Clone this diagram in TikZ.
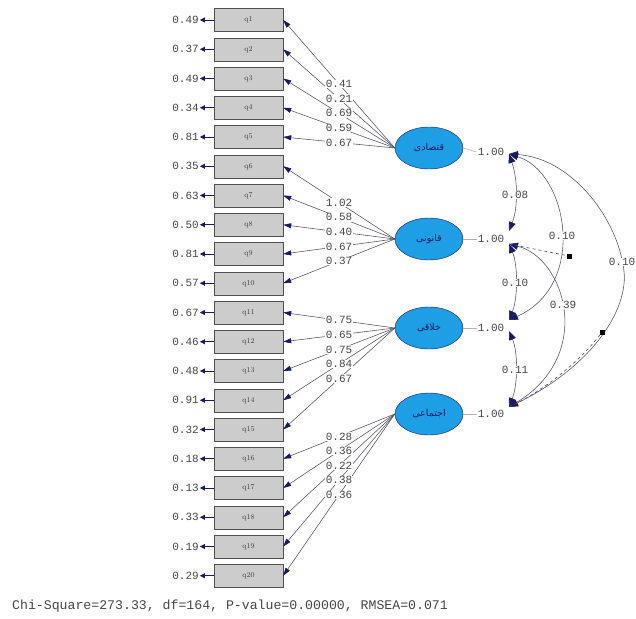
\documentclass[tikz,border=0pt]{standalone}
\usepackage{fontspec}
\usetikzlibrary{shapes.geometric,arrows.meta}
\newfontfamily\arabicfont[Script=Arabic]{DejaVu Sans}
\newfontfamily\numfont{Liberation Mono}
\TeXXeTstate=1
\definecolor{navy}{RGB}{25,25,100}
\definecolor{ink}{RGB}{70,70,70}
\definecolor{boxfill}{RGB}{204,204,204}
\definecolor{boxline}{RGB}{80,80,80}
\definecolor{factorblue}{RGB}{30,158,228}
\definecolor{linegray}{RGB}{80,80,95}
\begin{document}
\begin{tikzpicture}[x=1pt,y=-1pt,
  box/.style={draw=boxline, fill=boxfill, minimum width=69pt, minimum height=23pt,
    inner sep=0pt, font=\fontsize{7.5}{8}\selectfont, text=black!75},
  factor/.style={ellipse, draw=navy, fill=factorblue, minimum width=68pt,
    minimum height=42pt, inner sep=0pt, font=\arabicfont\fontsize{9.5}{10}\selectfont, text=navy},
  num/.style={font=\numfont\fontsize{11}{12}\selectfont, text=ink, inner sep=1pt},
  lab/.style={num, fill=white, inner sep=0.6pt},
  load/.style={draw=linegray, line width=0.55pt, -{Triangle[length=8pt,width=5pt,color=navy]}},
  errarrow/.style={draw=navy, line width=0.7pt, -{Triangle[length=5pt,width=5pt,color=navy]}},
  cov/.style={draw=linegray, line width=0.55pt,
    {Triangle[length=9pt,width=7pt,color=navy]}-{Triangle[length=9pt,width=7pt,color=navy]}},
  marker/.style={fill=black, minimum size=5pt, inner sep=0pt},
  unitline/.style={draw=gray!60, line width=0.6pt}
]
\useasboundingbox (0,0) rectangle (636,618);

% latent factors
\node[factor] (F1) at (429,148) {\beginR قتصادی\endR};
\node[factor] (F2) at (429,239) {\beginR قانونی\endR};
\node[factor] (F3) at (429,328) {\beginR خلاقی\endR};
\node[factor] (F4) at (429,414) {\beginR اجتماعی\endR};

% indicators, error variances and loadings
\foreach \i/\e/\l/\f in {
  1/0.49/0.41/F1, 2/0.37/0.21/F1, 3/0.49/0.69/F1, 4/0.34/0.59/F1, 5/0.81/0.67/F1,
  6/0.35/1.02/F2, 7/0.63/0.58/F2, 8/0.50/0.40/F2, 9/0.81/0.67/F2, 10/0.57/0.37/F2,
  11/0.67/0.75/F3, 12/0.46/0.65/F3, 13/0.48/0.75/F3, 14/0.91/0.84/F3, 15/0.32/0.67/F3,
  16/0.18/0.28/F4, 17/0.13/0.36/F4, 18/0.33/0.22/F4, 19/0.19/0.38/F4, 20/0.29/0.36/F4} {
  \pgfmathsetmacro\yy{20+(\i-1)*29.25}
  \node[box] (q\i) at (248.5,\yy) {q\i};
  \node[num] (e\i) at (185.5,\yy) {\e};
  \draw[errarrow] (q\i.west) -- (e\i.east);
  \draw[load] (\f.west) -- coordinate[pos=0.5] (m\i) (q\i.east);
}
\foreach \i/\l in {1/0.41, 2/0.21, 3/0.69, 4/0.59, 5/0.67,
  6/1.02, 7/0.58, 8/0.40, 9/0.67, 10/0.37,
  11/0.75, 12/0.65, 13/0.75, 14/0.84, 15/0.67,
  16/0.28, 17/0.36, 18/0.22, 19/0.38, 20/0.36} {
  \node[lab] at (m\i) {\l};
}

% factor variances
\node[num] (v1) at (491,152) {1.00};
\node[num] (v2) at (491,239) {1.00};
\node[num] (v3) at (491,328) {1.00};
\node[num] (v4) at (491,414) {1.00};
\foreach \k in {1,2,3,4} { \draw[unitline] (F\k.east) -- (v\k.west); }

% covariance end points
\coordinate (a1) at (509,154);
\coordinate (a2t) at (509,231);
\coordinate (a2b) at (509,244);
\coordinate (a3t) at (509,320);
\coordinate (a3b) at (509,331);
\coordinate (a4) at (509,407);
\coordinate (top14) at (623,265);

% factor covariances
\draw[cov] (a1) .. controls (518,180) and (518,208) .. (a2t);
\draw[cov] (a2b) .. controls (518,265) and (518,298) .. (a3t);
\draw[cov] (a3b) .. controls (518,352) and (518,384) .. (a4);
\draw[cov] (a1) .. controls (568,172) and (588,285) .. (a3t);
\draw[cov] (a2b) .. controls (565,258) and (595,355) .. (a4);
\draw[cov] (a1) .. controls (570,158) and (615,215) .. (top14)
  .. controls (632,305) and (595,365) .. (a4);

\node[marker] (s1) at (569,256) {};
\node[marker] (s2) at (602,332) {};
\draw[dashed, draw=linegray, line width=0.6pt] (a2b) -- (s1);
\draw[dashed, draw=linegray, line width=0.6pt] (a4) .. controls (550,388) and (585,355) .. (s2);

\node[lab] at (515,195) {0.08};
\node[lab] at (515,283) {0.10};
\node[lab] at (515,370) {0.11};
\node[lab] at (562,236) {0.10};
\node[lab] at (563,305) {0.39};
\node[lab] at (622,262) {0.10};

% fit statistics
\node[font=\numfont\fontsize{13.2}{14}\selectfont, text=ink, anchor=west, inner sep=0pt] (fit)
  at (12,606) {Chi-Square=273.33, df=164, P-value=0.00000, RMSEA=0.071};
\end{tikzpicture}
\end{document}
